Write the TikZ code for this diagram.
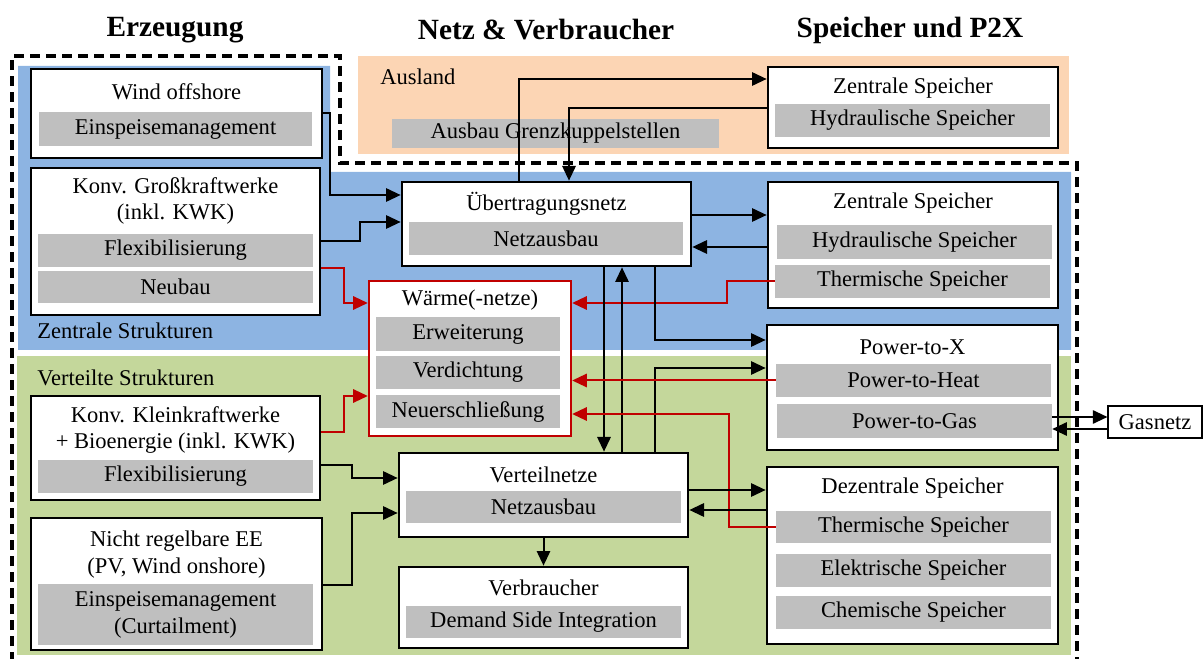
\documentclass[tikz,border=0pt]{standalone}
\usepackage{fontspec}
\setmainfont{Liberation Serif}
\usetikzlibrary{arrows.meta}
\definecolor{zblue}{RGB}{141,180,226}
\definecolor{vgreen}{RGB}{196,215,155}
\definecolor{aorange}{RGB}{252,213,180}
\definecolor{gbar}{RGB}{191,191,191}
\definecolor{dred}{RGB}{192,0,0}
\newcommand\txtfont{\fontsize{16.9}{20.2}\selectfont}
\newcommand\hdrfont{\fontsize{22}{26}\selectfont\bfseries}
% \bx{style}{name}{x1}{y1}{x2}{y2}{text}
\newcommand\bx[7]{\node[#1, minimum width={(#5-#3)*0.75pt}, minimum height={(#6-#4)*0.75pt}] (#2) at ({(#3+#5)/2},{(#4+#6)/2}) {#7};}
\tikzset{
  whitebox/.style={draw=black, line width=2pt, fill=white, inner sep=0pt},
  redbox/.style={draw=dred, line width=1.8pt, fill=white, inner sep=0pt},
  thinbox/.style={draw=black, line width=0.8pt, fill=white, inner sep=0pt, font=\txtfont},
  graybar/.style={fill=gbar, inner sep=0pt, font=\txtfont, align=center},
  ttl/.style={font=\txtfont, align=center, inner sep=0pt},
  lbl/.style={font=\txtfont, anchor=west, inner sep=0pt},
  hdr/.style={font=\hdrfont, inner sep=0pt},
  conn/.style={line width=1.5pt, -{Triangle[length=11pt,width=10pt]}},
  rconn/.style={conn, draw=dred},
  dashborder/.style={line width=2.5pt, dash pattern=on 7.5pt off 4.5pt}
}
\begin{document}
\begin{tikzpicture}[x=0.75pt, y=-0.75pt]
\useasboundingbox (0,0) rectangle (1204,659);
% background regions
\fill[zblue] (18,66) -- (330,66) -- (330,172) -- (1071,172) -- (1071,350) -- (18,350) -- cycle;
\fill[aorange] (358,56) rectangle (1069,154);
\fill[vgreen] (17,356) rectangle (1071,655);
\draw[dashborder] (12,662) -- (12,56) -- (340,56) -- (340,163) -- (1077,163) -- (1077,662);

% headers
\node[hdr] (h1) at (175,30) {Erzeugung};
\node[hdr] (h2) at (546,30) {Netz \& Verbraucher};
\node[hdr] (h3) at (910,30) {Speicher und P2X};

% region labels
\node[lbl] (ausl) at (380,77) {Ausland};
\node[lbl] (zstr) at (37,331) {Zentrale Strukturen};
\node[lbl] (vstr) at (37,378) {Verteilte Strukturen};
\bx{graybar}{grenz}{392}{119}{719}{148}{Ausbau Grenzkuppelstellen}

% Erzeugung
\bx{whitebox}{wind}{31}{69}{322}{158}{}
\node[ttl] (windT) at (176.5,92) {Wind offshore};
\bx{graybar}{windbar}{39}{112}{312}{146}{Einspeisemanagement}

\bx{whitebox}{kgross}{31}{168}{320}{315}{}
\node[ttl] (kgT) at (175.5,201) {Konv. Großkraftwerke\\(inkl. KWK)};
\bx{graybar}{kgflex}{38}{234}{313}{267}{Flexibilisierung}
\bx{graybar}{kgneu}{38}{271}{313}{303}{Neubau}

\bx{whitebox}{kklein}{31}{396}{320}{500}{}
\node[ttl] (kkT) at (175.5,430) {Konv. Kleinkraftwerke\\+ Bioenergie (inkl. KWK)};
\bx{graybar}{kkflex}{38}{460}{313}{493}{Flexibilisierung}

\bx{whitebox}{nicht}{31}{518}{322}{650}{}
\node[ttl] (nT) at (176.5,555) {Nicht regelbare EE\\(PV, Wind onshore)};
\bx{graybar}{nbar}{38}{584}{313}{645}{Einspeisemanagement\\(Curtailment)}

% Netz & Verbraucher
\bx{whitebox}{uebertr}{402}{182}{691}{266}{}
\node[ttl] (ueT) at (546.5,204) {Übertragungsnetz};
\bx{graybar}{uebar}{409}{222}{683}{255}{Netzausbau}

\bx{redbox}{waerme}{369}{281}{571}{436}{}
\node[ttl] (wT) at (470,300) {Wärme(-netze)};
\bx{graybar}{wb1}{376}{317}{560}{351}{Erweiterung}
\bx{graybar}{wb2}{376}{356}{560}{389}{Verdichtung}
\bx{graybar}{wb3}{376}{395}{560}{428}{Neuerschließung}

\bx{whitebox}{vert}{399}{453}{688}{537}{}
\node[ttl] (vT) at (543.5,475) {Verteilnetze};
\bx{graybar}{vbar}{406}{491}{681}{523}{Netzausbau}

\bx{whitebox}{verb}{399}{567}{688}{648}{}
\node[ttl] (vbT) at (543.5,588) {Verbraucher};
\bx{graybar}{vbbar}{406}{606}{681}{638}{Demand Side Integration}

% Speicher und P2X
\bx{whitebox}{zsA}{768}{67}{1058}{148}{}
\node[ttl] (zsAT) at (913,88) {Zentrale Speicher};
\bx{graybar}{zsAbar}{775}{104}{1050}{137}{Hydraulische Speicher}

\bx{whitebox}{zsB}{768}{182}{1058}{308}{}
\node[ttl] (zsBT) at (913,203) {Zentrale Speicher};
\bx{graybar}{zsBh}{777}{225}{1052}{259}{Hydraulische Speicher}
\bx{graybar}{zsBth}{775}{265}{1050}{298}{Thermische Speicher}

\bx{whitebox}{ptx}{767}{325}{1058}{450}{}
\node[ttl] (ptxT) at (912.5,347) {Power-to-X};
\bx{graybar}{pth}{776}{364}{1051}{397}{Power-to-Heat}
\bx{graybar}{ptg}{777}{404}{1052}{438}{Power-to-Gas}

\bx{whitebox}{dez}{767}{467}{1058}{644}{}
\node[ttl] (dezT) at (912.5,488) {Dezentrale Speicher};
\bx{graybar}{dth}{776}{511}{1051}{543}{Thermische Speicher}
\bx{graybar}{del}{776}{554}{1051}{587}{Elektrische Speicher}
\bx{graybar}{dch}{776}{596}{1051}{629}{Chemische Speicher}

\bx{thinbox}{gas}{1108}{406}{1202}{438}{Gasnetz}

% connectors
\draw[conn] (wind.east) -| (330,195) -- (uebertr.west |- 0,195);
\draw[conn] (kgross.east |- 0,241) -- (360,241) |- (uebertr.west |- 0,222);
\draw[rconn] (kgross.east |- 0,268) -- (344,268) |- (waerme.west |- 0,303);
\draw[rconn] (kklein.east |- 0,432) -- (344,432) |- (waerme.west |- 0,396);
\draw[conn] (kklein.east |- 0,465) -- (352,465) |- (vert.west |- 0,478);
\draw[conn] (nicht.east |- 0,585) -- (352,585) |- (vert.west |- 0,513);
\draw[conn] (uebertr.north -| 519,0) |- (zsA.west |- 0,79);
\draw[conn] (zsA.west |- 0,108) -| (uebertr.north -| 569,0);
\draw[conn] (uebertr.east |- 0,215) -- (zsB.west |- 0,215);
\draw[conn] (zsB.west |- 0,247) -- (uebertr.east |- 0,247);
\draw[rconn] (zsBth.west) -| (727,303) -- (waerme.east |- 0,303);
\draw[conn] (uebertr.south -| 655,0) |- (ptx.west |- 0,340);
\draw[conn] (uebertr.south -| 604,0) -- (vert.north -| 604,0);
\draw[conn] (vert.north -| 622,0) -- (uebertr.south -| 622,0);
\draw[conn] (vert.north -| 655,0) |- (ptx.west |- 0,368);
\draw[rconn] (pth.west) -- (waerme.east |- pth.west);
\draw[rconn] (dth.west) -| (729,414) -- (waerme.east |- 0,414);
\draw[conn] (vert.east |- 0,490) -- (dez.west |- 0,490);
\draw[conn] (dez.west |- 0,510) -- (vert.east |- 0,510);
\draw[conn] (vert.south) -- (verb.north);
\draw[conn] (ptg.east |- 0,417) -- (gas.west |- 0,417);
\draw[conn] (gas.west |- 0,429) -- (ptg.east |- 0,429);
\end{tikzpicture}
\end{document}
